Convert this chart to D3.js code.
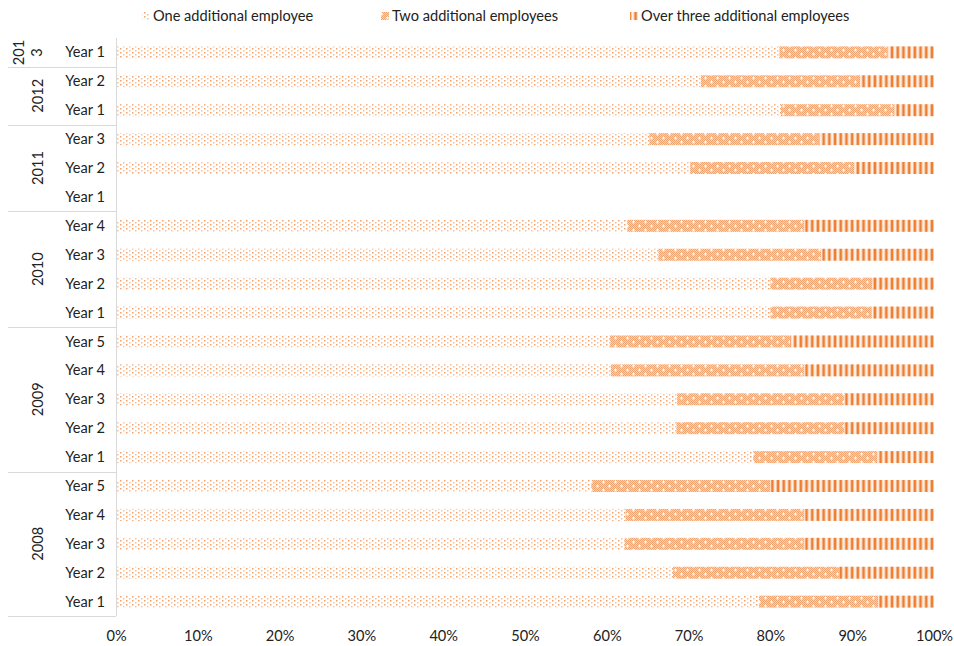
<!DOCTYPE html>
<html><head><meta charset="utf-8">
<script src="https://cdn.jsdelivr.net/npm/d3@7"></script>
<style>body{margin:0;background:#fff;font-family:Lato,"Open Sans",sans-serif;}</style>
</head><body>
<svg id="c" width="954" height="646"></svg>
<script>
const rowLabels = ["Year 1","Year 2","Year 1","Year 3","Year 2","Year 1","Year 4","Year 3","Year 2","Year 1","Year 5","Year 4","Year 3","Year 2","Year 1","Year 5","Year 4","Year 3","Year 2","Year 1"];
const rowYears = ["2013","2012","2012","2011","2011","2011","2010","2010","2010","2010","2009","2009","2009","2009","2009","2008","2008","2008","2008","2008"];
const groups = ["2013","2012","2011","2010","2009","2008"];
const seriesNames = ["One additional employee","Two additional employees","Over three additional employees"];
const one =   [81.1,71.5,81.3,65.2,70.2,0,62.5,66.3,80.0,80.0,60.4,60.5,68.6,68.5,77.9,58.1,62.3,62.2,68.1,78.6];
const two =   [13.2,19.5,13.9,20.7,20.1,0,21.6,19.9,12.5,12.4,22.0,23.6,20.4,20.5,15.2,21.9,21.8,21.9,20.3,14.6];
const three = [5.7,9.0,4.8,14.1,9.7,0,15.9,13.8,7.5,7.6,17.6,15.9,11.0,11.0,6.9,20.0,15.9,15.9,11.6,6.8];
const xTicks = [0,10,20,30,40,50,60,70,80,90,100];

const svg = d3.select("#c");
const defs = svg.append("defs");
// dotted pattern
const pDot = defs.append("pattern").attr("id","pOne").attr("patternUnits","userSpaceOnUse").attr("width",6).attr("height",4);
pDot.append("rect").attr("x",0).attr("y",0).attr("width",1.5).attr("height",1.5).attr("fill","#F2A26B");
pDot.append("rect").attr("x",3).attr("y",2).attr("width",1.5).attr("height",1.5).attr("fill","#F7C19C");
// checker
const pCk = defs.append("pattern").attr("id","pCk").attr("patternUnits","userSpaceOnUse").attr("width",2).attr("height",2);
pCk.append("rect").attr("width",2).attr("height",2).attr("fill","#FAD2B5");
pCk.append("rect").attr("x",0).attr("y",0).attr("width",1).attr("height",1).attr("fill","#F3A46E");
pCk.append("rect").attr("x",1).attr("y",1).attr("width",1).attr("height",1).attr("fill","#F3A46E");
const pTwo = defs.append("pattern").attr("id","pTwo").attr("patternUnits","userSpaceOnUse").attr("width",12).attr("height",8);
pTwo.append("rect").attr("width",12).attr("height",8).attr("fill","url(#pCk)");
[[3,2],[9,6]].forEach(([cx,cy])=>{
  pTwo.append("rect").attr("x",cx-1).attr("y",cy-0.5).attr("width",3).attr("height",1).attr("fill","#fff");
  pTwo.append("rect").attr("x",cx).attr("y",cy-1.5).attr("width",1).attr("height",3).attr("fill","#fff");
});
// stripes
const pThree = defs.append("pattern").attr("id","pThree").attr("patternUnits","userSpaceOnUse").attr("width",5.7).attr("height",10);
pThree.append("rect").attr("width",5.7).attr("height",10).attr("fill","#FDF0E6");
pThree.append("rect").attr("x",1.5).attr("width",2.7).attr("height",10).attr("fill","#ED7D31");
const fills = ["url(#pOne)","url(#pTwo)","url(#pThree)"];

const x = d3.scaleLinear().domain([0,100]).range([116,934]);
const y = d3.scaleBand().domain(d3.range(rowLabels.length)).range([38,616]).paddingInner(0.585).paddingOuter(0.29);

const table = rowLabels.map((r,i)=>({i, one:one[i], two:two[i], three:three[i]}));
const stack = d3.stack().keys(["one","two","three"])(table);

const gBars = svg.append("g");
stack.forEach((s,k)=>{
  gBars.selectAll(null).data(s.filter(d=>d[1]-d[0]>0)).enter().append("rect")
    .attr("x",d=>x(d[0])).attr("width",d=>x(d[1])-x(d[0]))
    .attr("y",d=>y(d.data.i)).attr("height",y.bandwidth())
    .attr("fill",fills[k]);
});

// category axis lines
const plotTop = 38;
const rowH = 578/rowLabels.length;
const lineCol = "#D9D9D9";
svg.append("line").attr("x1",116.5).attr("x2",116.5).attr("y1",plotTop).attr("y2",616).attr("stroke",lineCol);
// group boundaries
const bounds = [0];
groups.forEach(g=>{ bounds.push(bounds[bounds.length-1] + rowYears.filter(v=>v===g).length); });
bounds.forEach(b=>{
  if (b===0) return;
  const yy = Math.round(plotTop + b*rowH) + 0.5;
  svg.append("line").attr("x1",8).attr("x2",116).attr("y1",yy).attr("y2",yy).attr("stroke",lineCol);
});
const fs = 14.6;
// row labels
svg.append("g").selectAll("text").data(rowLabels).enter().append("text")
  .attr("x",105).attr("y",(d,i)=>y(i)+y.bandwidth()/2).attr("dy","0.35em")
  .attr("text-anchor","end").attr("font-size",fs).attr("fill","#222").text(d=>d);
// group labels
groups.forEach((g,gi)=>{
  const b0 = bounds[gi], b1 = bounds[gi+1];
  const cy = plotTop + (b0+b1)/2*rowH;
  if (b1-b0===1) {
    svg.append("text").attr("transform",`translate(19,${cy}) rotate(-90)`).attr("dy","0.35em")
      .attr("text-anchor","middle").attr("font-size",fs).attr("fill","#222").text(g.slice(0,3));
    svg.append("text").attr("transform",`translate(37,${cy}) rotate(-90)`).attr("dy","0.35em")
      .attr("text-anchor","middle").attr("font-size",fs).attr("fill","#222").text(g.slice(3));
  } else {
    svg.append("text").attr("transform",`translate(38,${cy}) rotate(-90)`).attr("dy","0.35em")
      .attr("text-anchor","middle").attr("font-size",fs).attr("fill","#222").text(g);
  }
});
// x axis
const xa = svg.append("g").attr("transform","translate(0,616)")
  .call(d3.axisBottom(x).tickValues(xTicks).tickFormat(d=>d+"%").tickSize(0).tickPadding(15));
xa.select(".domain").remove();
xa.selectAll("text").attr("font-size",fs).attr("fill","#222").attr("font-family","Lato,sans-serif");

// legend
const legX = [142,381,630];
const lg = svg.append("g");
seriesNames.forEach((n,k)=>{
  lg.append("rect").attr("x",legX[k]).attr("y",12).attr("width",8).attr("height",8).attr("fill",fills[k]);
  lg.append("text").attr("x",legX[k]+11).attr("y",16).attr("dy","0.35em").attr("font-size",fs).attr("fill","#222").text(n);
});
</script>
</body></html>
